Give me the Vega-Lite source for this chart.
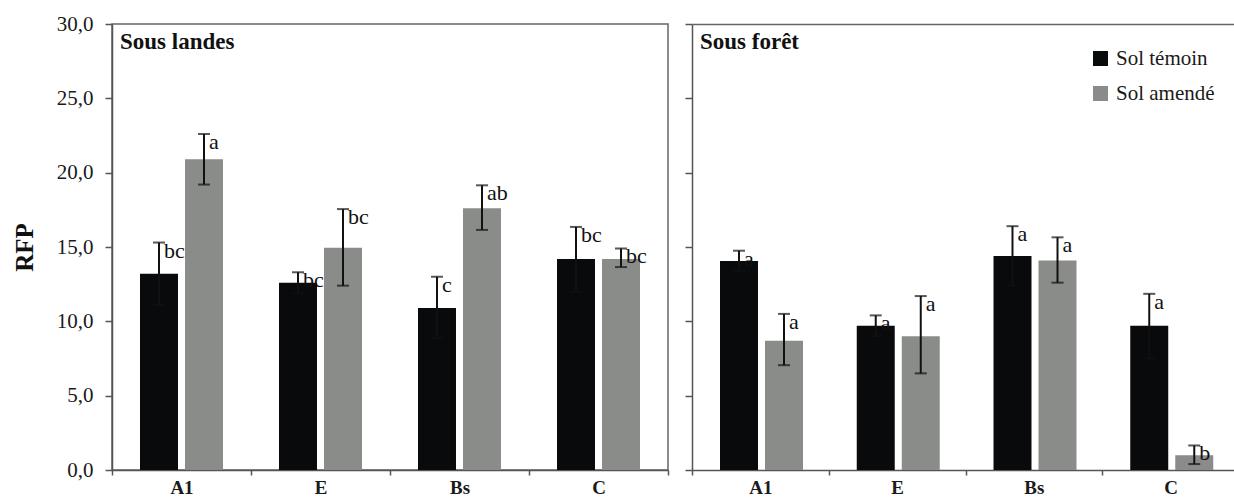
{
  "$schema": "https://vega.github.io/schema/vega-lite/v6.json",
  "padding": {"left": 11, "top": 12, "right": 0, "bottom": 0},
  "background": "white",
  "config": {
    "locale": {"number": {"decimal": ",", "thousands": " ", "grouping": [3], "currency": ["", " €"]}},
    "font": "Liberation Serif, Times New Roman, DejaVu Serif, serif",
    "view": {"stroke": "#666", "strokeWidth": 1.5},
    "axis": {
      "labelFont": "Liberation Serif, Times New Roman, DejaVu Serif, serif",
      "labelFontSize": 21,
      "labelColor": "#1a1a1a",
      "domainColor": "#555",
      "domainWidth": 1.5,
      "tickColor": "#555",
      "tickWidth": 1.5,
      "grid": false,
      "titleFont": "Liberation Serif, Times New Roman, DejaVu Serif, serif"
    },
    "legend": {"labelFont": "Liberation Serif, Times New Roman, DejaVu Serif, serif"},
    "text": {"font": "Liberation Serif, Times New Roman, DejaVu Serif, serif"}
  },
  "datasets": {
    "rfp": [
      {"site": "Sous landes", "horizon": "A1", "sol": "Sol témoin", "rfp": 13.2, "lo": 11.1, "hi": 15.3, "lettre": "bc"},
      {"site": "Sous landes", "horizon": "A1", "sol": "Sol amendé", "rfp": 20.9, "lo": 19.2, "hi": 22.6, "lettre": "a"},
      {"site": "Sous landes", "horizon": "E", "sol": "Sol témoin", "rfp": 12.6, "lo": 11.9, "hi": 13.3, "lettre": "bc"},
      {"site": "Sous landes", "horizon": "E", "sol": "Sol amendé", "rfp": 14.95, "lo": 12.4, "hi": 17.55, "lettre": "bc"},
      {"site": "Sous landes", "horizon": "Bs", "sol": "Sol témoin", "rfp": 10.9, "lo": 8.9, "hi": 13.0, "lettre": "c"},
      {"site": "Sous landes", "horizon": "Bs", "sol": "Sol amendé", "rfp": 17.6, "lo": 16.15, "hi": 19.15, "lettre": "ab"},
      {"site": "Sous landes", "horizon": "C", "sol": "Sol témoin", "rfp": 14.2, "lo": 12.0, "hi": 16.35, "lettre": "bc"},
      {"site": "Sous landes", "horizon": "C", "sol": "Sol amendé", "rfp": 14.2, "lo": 13.65, "hi": 14.9, "lettre": "bc"},
      {"site": "Sous forêt", "horizon": "A1", "sol": "Sol témoin", "rfp": 14.05, "lo": 13.4, "hi": 14.75, "lettre": "a"},
      {"site": "Sous forêt", "horizon": "A1", "sol": "Sol amendé", "rfp": 8.7, "lo": 7.05, "hi": 10.5, "lettre": "a"},
      {"site": "Sous forêt", "horizon": "E", "sol": "Sol témoin", "rfp": 9.7, "lo": 9.0, "hi": 10.4, "lettre": "a"},
      {"site": "Sous forêt", "horizon": "E", "sol": "Sol amendé", "rfp": 9.0, "lo": 6.5, "hi": 11.7, "lettre": "a"},
      {"site": "Sous forêt", "horizon": "Bs", "sol": "Sol témoin", "rfp": 14.4, "lo": 12.4, "hi": 16.4, "lettre": "a"},
      {"site": "Sous forêt", "horizon": "Bs", "sol": "Sol amendé", "rfp": 14.1, "lo": 12.6, "hi": 15.65, "lettre": "a"},
      {"site": "Sous forêt", "horizon": "C", "sol": "Sol témoin", "rfp": 9.7, "lo": 7.5, "hi": 11.85, "lettre": "a"},
      {"site": "Sous forêt", "horizon": "C", "sol": "Sol amendé", "rfp": 1.0, "lo": 0.4, "hi": 1.65, "lettre": "b"}
    ],
    "titres": [
      {"site": "Sous landes", "horizon": "A1", "sol": "Sol témoin", "titre": "Sous landes"},
      {"site": "Sous forêt", "horizon": "A1", "sol": "Sol témoin", "titre": "Sous forêt"}
    ]
  },
  "resolve": {"legend": {"color": "independent"}},
  "spacing": 14,
  "hconcat": [
    {
      "width": 556,
      "height": 446,
      "encoding": {
        "x": {"field": "horizon", "type": "nominal", "sort": ["A1", "E", "Bs", "C"],
              "scale": {"paddingInner": 0, "paddingOuter": 0},
              "axis": {"title": null, "labelAngle": 0, "tickBand": "extent", "tickSize": 5, "labelPadding": 3, "labelFontWeight": "bold", "labelFontSize": 19, "labelBaseline": "top"}},
        "xOffset": {"field": "sol", "type": "nominal", "sort": ["Sol témoin", "Sol amendé"],
                    "scale": {"paddingInner": 0.156, "paddingOuter": 0.622}}
      },
      "layer": [
        {
          "data": {"name": "rfp"},
          "transform": [{"filter": "datum.site === 'Sous landes'"}],
          "mark": {"type": "bar"},
          "encoding": {
            "y": {"field": "rfp", "type": "quantitative",
                  "scale": {"domain": [0, 30], "nice": false},
                  "axis": {"values": [0, 5, 10, 15, 20, 25, 30], "format": ".1f", "title": "RFP", "titleFontSize": 25, "titleFontWeight": "bold", "titleColor": "#111", "titlePadding": 19, "tickSize": 7, "labelPadding": 12}},
            "color": {"field": "sol", "type": "nominal", "sort": ["Sol témoin", "Sol amendé"],
                      "scale": {"domain": ["Sol témoin", "Sol amendé"], "range": ["#080a0b", "#8a8c89"]},
                      "legend": null}
          }
        },
        {
          "data": {"name": "rfp"},
          "transform": [{"filter": "datum.site === 'Sous landes'"}],
          "mark": {"type": "rule", "color": "#111", "strokeWidth": 2},
          "encoding": {"y": {"field": "lo", "type": "quantitative"}, "y2": {"field": "hi"}}
        },
        {
          "data": {"name": "rfp"},
          "transform": [{"filter": "datum.site === 'Sous landes'"}],
          "mark": {"type": "tick", "color": "#111", "thickness": 2, "size": 12},
          "encoding": {"y": {"field": "hi", "type": "quantitative"}}
        },
        {
          "data": {"name": "rfp"},
          "transform": [{"filter": "datum.site === 'Sous landes'"}],
          "mark": {"type": "tick", "color": "#111", "thickness": 2, "size": 12},
          "encoding": {"y": {"field": "lo", "type": "quantitative"}}
        },
        {
          "data": {"name": "rfp"},
          "transform": [{"filter": "datum.site === 'Sous landes'"}],
          "mark": {"type": "text", "align": "left", "baseline": "top", "dx": 5, "dy": -2, "font": "Liberation Serif, Times New Roman, DejaVu Serif, serif", "fontSize": 22, "color": "#111"},
          "encoding": {"y": {"field": "hi", "type": "quantitative"}, "text": {"field": "lettre"}}
        },
        {
          "data": {"name": "titres"},
          "transform": [{"filter": "datum.site === 'Sous landes'"}],
          "mark": {"type": "text", "align": "left", "baseline": "alphabetic", "dx": -39, "dy": 25, "font": "Liberation Serif, Times New Roman, DejaVu Serif, serif", "fontSize": 23, "fontWeight": "bold", "color": "#111"},
          "encoding": {"y": {"datum": 30, "type": "quantitative"}, "text": {"field": "titre"}}
        }
      ]
    },
    {
      "width": 547,
      "height": 446,
      "view": {"stroke": null},
      "encoding": {
        "x": {"field": "horizon", "type": "nominal", "sort": ["A1", "E", "Bs", "C"],
              "scale": {"paddingInner": 0, "paddingOuter": 0}, "axis": null},
        "xOffset": {"field": "sol", "type": "nominal", "sort": ["Sol témoin", "Sol amendé"],
                    "scale": {"paddingInner": 0.156, "paddingOuter": 0.622}}
      },
      "resolve": {"axis": {"x": "independent"}},
      "layer": [
        {
          "data": {"name": "rfp"},
          "transform": [{"filter": "datum.site === 'Sous forêt'"}],
          "mark": {"type": "bar"},
          "encoding": {
            "x": {"field": "horizon", "type": "nominal", "sort": ["A1", "E", "Bs", "C"],
                  "axis": {"title": null, "labelAngle": 0, "tickBand": "extent", "tickSize": 5, "labelPadding": 3, "labelFontWeight": "bold", "labelFontSize": 19, "labelBaseline": "top"}},
            "y": {"field": "rfp", "type": "quantitative",
                  "scale": {"domain": [0, 30], "nice": false},
                  "axis": {"values": [0, 5, 10, 15, 20, 25, 30], "labels": false, "title": null, "tickSize": 7}},
            "color": {"field": "sol", "type": "nominal", "sort": ["Sol témoin", "Sol amendé"],
                      "scale": {"domain": ["Sol témoin", "Sol amendé"], "range": ["#080a0b", "#8a8c89"]},
                      "legend": {"title": null, "orient": "top-right", "offset": 24, "padding": 0, "symbolType": "square", "symbolSize": 225, "symbolStrokeWidth": 0, "labelFont": "Liberation Serif, Times New Roman, DejaVu Serif, serif", "labelFontSize": 21, "labelColor": "#1a1a1a", "labelOffset": 5, "rowPadding": 13}}
          }
        },
        {
          "data": {"name": "rfp"},
          "transform": [{"filter": "datum.site === 'Sous forêt'"}],
          "mark": {"type": "rule", "color": "#111", "strokeWidth": 2},
          "encoding": {
            "x": {"field": "horizon", "type": "nominal", "sort": ["A1", "E", "Bs", "C"],
                  "axis": {"orient": "top", "labels": false, "ticks": false, "title": null, "domain": true, "domainColor": "#666"}},
            "y": {"field": "lo", "type": "quantitative"}, "y2": {"field": "hi"}}
        },
        {
          "data": {"name": "rfp"},
          "transform": [{"filter": "datum.site === 'Sous forêt'"}],
          "mark": {"type": "tick", "color": "#111", "thickness": 2, "size": 12},
          "encoding": {"y": {"field": "hi", "type": "quantitative"}}
        },
        {
          "data": {"name": "rfp"},
          "transform": [{"filter": "datum.site === 'Sous forêt'"}],
          "mark": {"type": "tick", "color": "#111", "thickness": 2, "size": 12},
          "encoding": {"y": {"field": "lo", "type": "quantitative"}}
        },
        {
          "data": {"name": "rfp"},
          "transform": [{"filter": "datum.site === 'Sous forêt'"}],
          "mark": {"type": "text", "align": "left", "baseline": "top", "dx": 5, "dy": -2, "font": "Liberation Serif, Times New Roman, DejaVu Serif, serif", "fontSize": 22, "color": "#111"},
          "encoding": {"y": {"field": "hi", "type": "quantitative"}, "text": {"field": "lettre"}}
        },
        {
          "data": {"name": "titres"},
          "transform": [{"filter": "datum.site === 'Sous forêt'"}],
          "mark": {"type": "text", "align": "left", "baseline": "alphabetic", "dx": -39, "dy": 25, "font": "Liberation Serif, Times New Roman, DejaVu Serif, serif", "fontSize": 23, "fontWeight": "bold", "color": "#111"},
          "encoding": {"y": {"datum": 30, "type": "quantitative"}, "text": {"field": "titre"}}
        }
      ]
    }
  ]
}
